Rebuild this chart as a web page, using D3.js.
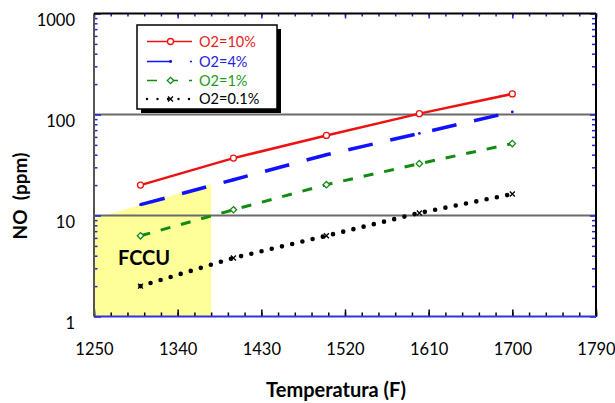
<!DOCTYPE html>
<html>
<head>
<meta charset="utf-8">
<script src="https://cdn.jsdelivr.net/npm/d3@7"></script>
<style>
  html, body { margin: 0; padding: 0; background: #fff; }
  svg { display: block; font-family: Lato, "Open Sans", sans-serif; }
</style>
</head>
<body>
<svg id="chart" width="615" height="403"></svg>
<script>
// ---- data ----
const temperatures = [1300, 1400, 1500, 1600, 1700];
const no_o2_10 = [20, 37, 62, 102, 160];
const no_o2_4 = [12.8, 22.6, 40, 65, 106];
const no_o2_1 = [6.3, 11.4, 20.2, 32.6, 51.5];
const no_o2_01 = [2.0, 3.8, 6.3, 10.6, 16.3];
const seriesNames = ["O2=10%", "O2=4%", "O2=1%", "O2=0.1%"];
const xTickLabels = [1250, 1340, 1430, 1520, 1610, 1700, 1790];
const yTickLabels = [1, 10, 100, 1000];
const gridValues = [10, 100];
const fccuTemps = [1250, 1376];
const fccuTop = [9.3, 20.5];
const fccuLabel = "FCCU";
const xTitle = "Temperatura (F)";
const yTitle = "NO  (ppm)";

// ---- layout ----
const L = 94, R = 596, T = 13.5, B = 316.5;
const svg = d3.select("#chart");
const x = d3.scaleLinear().domain([1250, 1790]).range([L, R]);
const y = d3.scaleLog().domain([1, 1000]).range([B, T]);

// FCCU region
const fccuPoly = [
  [fccuTemps[0], 1], [fccuTemps[0], fccuTop[0]],
  [fccuTemps[1], fccuTop[1]], [fccuTemps[1], 1]
];
svg.append("path")
  .attr("d", d3.line().x(d => x(d[0])).y(d => y(d[1]))(fccuPoly) + "Z")
  .attr("fill", "#ffff99");

// gridlines
svg.selectAll(".grid").data(gridValues).enter().append("line")
  .attr("x1", L).attr("x2", R)
  .attr("y1", d => y(d)).attr("y2", d => y(d))
  .attr("stroke", "#6a6a6a").attr("stroke-width", 2);

// ticks
const minorX = d3.range(1250, 1790.1, 18);
const majorX = xTickLabels;
const minorY = [];
[1, 10, 100].forEach(d => { for (let k = 2; k <= 9; k++) minorY.push(d * k); });

function tickGroup(axisFn, vals, size, color, transform) {
  const g = svg.append("g").attr("transform", transform)
    .call(axisFn.tickValues(vals).tickSize(size).tickFormat(""));
  g.select(".domain").remove();
  g.selectAll(".tick line").attr("stroke", color).attr("stroke-width", 1.5);
  return g;
}
// bottom (black, pointing up)
tickGroup(d3.axisBottom(x), minorX, -4, "#000", `translate(0,${B})`);
tickGroup(d3.axisBottom(x), majorX, -7, "#000", `translate(0,${B})`);
// top (blue, pointing down)
tickGroup(d3.axisTop(x), minorX, -3, "#2222dd", `translate(0,${T})`);
tickGroup(d3.axisTop(x), majorX, -5, "#2222dd", `translate(0,${T})`);
// left (blue, pointing right)
tickGroup(d3.axisLeft(y), minorY, -3.5, "#2222dd", `translate(${L},0)`);
tickGroup(d3.axisLeft(y), yTickLabels, -7, "#2222dd", `translate(${L},0)`);
// right (blue, pointing left)
tickGroup(d3.axisRight(y), minorY, -4, "#2222dd", `translate(${R},0)`);
tickGroup(d3.axisRight(y), yTickLabels, -6, "#2222dd", `translate(${R},0)`);

// frame
svg.append("line").attr("x1", L).attr("x2", L).attr("y1", T).attr("y2", B)
  .attr("stroke", "#555").attr("stroke-width", 2);
svg.append("line").attr("x1", L).attr("x2", R).attr("y1", T).attr("y2", T)
  .attr("stroke", "#000").attr("stroke-width", 2);
svg.append("line").attr("x1", R).attr("x2", R).attr("y1", T).attr("y2", B)
  .attr("stroke", "#000").attr("stroke-width", 2);
svg.append("line").attr("x1", L).attr("x2", R).attr("y1", B).attr("y2", B)
  .attr("stroke", "#3333dd").attr("stroke-width", 2);

// tick labels
const xl = svg.append("g").attr("transform", `translate(0,${B})`)
  .call(d3.axisBottom(x).tickValues(xTickLabels).tickSize(0).tickPadding(0).tickFormat(d3.format("d")));
xl.select(".domain").remove();
xl.selectAll("text").attr("font-family", "Lato, sans-serif").attr("font-size", 16.5)
  .attr("fill", "#000").attr("dy", 0).attr("y", 38);

const yl = svg.append("g").attr("transform", `translate(75,0)`)
  .call(d3.axisLeft(y).tickValues(yTickLabels).tickSize(0).tickPadding(0).tickFormat(d3.format("d")));
yl.select(".domain").remove();
yl.selectAll("text").attr("font-family", "Lato, sans-serif").attr("font-size", 16.5)
  .attr("fill", "#000").attr("dy", "0.32em").attr("y", 7);

// axis titles
svg.append("text").attr("x", 336).attr("y", 397).attr("text-anchor", "middle")
  .attr("font-family", "Lato, sans-serif").attr("font-weight", "bold").attr("font-size", 20)
  .text(xTitle);
svg.append("text").attr("transform", "translate(27,196) rotate(-90)").attr("text-anchor", "middle")
  .attr("font-family", "Lato, sans-serif").attr("font-weight", "bold").attr("font-size", 19)
  .attr("xml:space", "preserve").style("white-space", "pre")
  .text(yTitle);

// FCCU label
svg.append("text").attr("x", 118).attr("y", 265)
  .attr("font-family", "Lato, sans-serif").attr("font-weight", "bold").attr("font-size", 20)
  .text(fccuLabel);

// series
const styles = [
  { vals: no_o2_10, color: "#ee1111", text: "#e51c1c", width: 2.5, dash: null, cap: "butt", marker: "circle" },
  { vals: no_o2_4, color: "#1111ff", text: "#2222dd", width: 3.5, dash: "25 18", cap: "butt", marker: "dot" },
  { vals: no_o2_1, color: "#138a13", text: "#229922", width: 3, dash: "10 11", cap: "butt", marker: "diamond" },
  { vals: no_o2_01, color: "#000", text: "#000", width: 4.6, dash: "0 10.5", cap: "round", marker: "x" }
];
const line = d3.line().x(d => x(d[0])).y(d => y(d[1]));

function drawMarker(g, type, cx, cy, color) {
  if (type === "circle") {
    g.append("circle").attr("cx", cx).attr("cy", cy).attr("r", 3)
      .attr("fill", "#fff").attr("stroke", color).attr("stroke-width", 1.3);
  } else if (type === "dot") {
    g.append("circle").attr("cx", cx).attr("cy", cy).attr("r", 1.4).attr("fill", color);
  } else if (type === "diamond") {
    g.append("path").attr("transform", `translate(${cx},${cy})`)
      .attr("d", "M0,-3.2L3.2,0L0,3.2L-3.2,0Z")
      .attr("fill", "#fff").attr("stroke", color).attr("stroke-width", 1.3);
  } else if (type === "x") {
    g.append("path").attr("transform", `translate(${cx},${cy})`)
      .attr("d", "M-2.5,-2.5L2.5,2.5M-2.5,2.5L2.5,-2.5")
      .attr("stroke", color).attr("stroke-width", 1.3);
  }
}

styles.forEach(s => {
  const pts = temperatures.map((t, i) => [t, s.vals[i]]);
  const p = svg.append("path").attr("d", line(pts)).attr("fill", "none")
    .attr("stroke", s.color).attr("stroke-width", s.width).attr("stroke-linecap", s.cap);
  if (s.dash) p.attr("stroke-dasharray", s.dash);
  const g = svg.append("g");
  pts.forEach(d => drawMarker(g, s.marker, x(d[0]), y(d[1]), s.color));
});

// legend
const lx = 137, ly = 25, lw = 140, lh = 84;
svg.append("rect").attr("x", lx + 4).attr("y", ly + 4).attr("width", lw).attr("height", lh).attr("fill", "#000");
svg.append("rect").attr("x", lx).attr("y", ly).attr("width", lw).attr("height", lh)
  .attr("fill", "#fff").attr("stroke", "#000").attr("stroke-width", 1.5);
const rowY = [41.5, 61.5, 80.5, 99];
styles.forEach((s, i) => {
  const yy = rowY[i];
  const l = svg.append("line").attr("x1", 147).attr("x2", 192).attr("y1", yy).attr("y2", yy)
    .attr("stroke", s.color).attr("stroke-width", 1.7).attr("stroke-linecap", s.cap);
  if (s.dash) l.attr("stroke-dasharray", s.dash);
  if (s.marker === "x") l.attr("stroke-width", 2.4);
  drawMarker(svg, s.marker, 170.5, yy, s.color);
  svg.append("text").attr("x", 199).attr("y", yy).attr("dy", "0.36em")
    .attr("font-family", "Lato, sans-serif").attr("font-size", 14.5).attr("fill", s.text)
    .text(seriesNames[i]);
});
</script>
</body>
</html>
